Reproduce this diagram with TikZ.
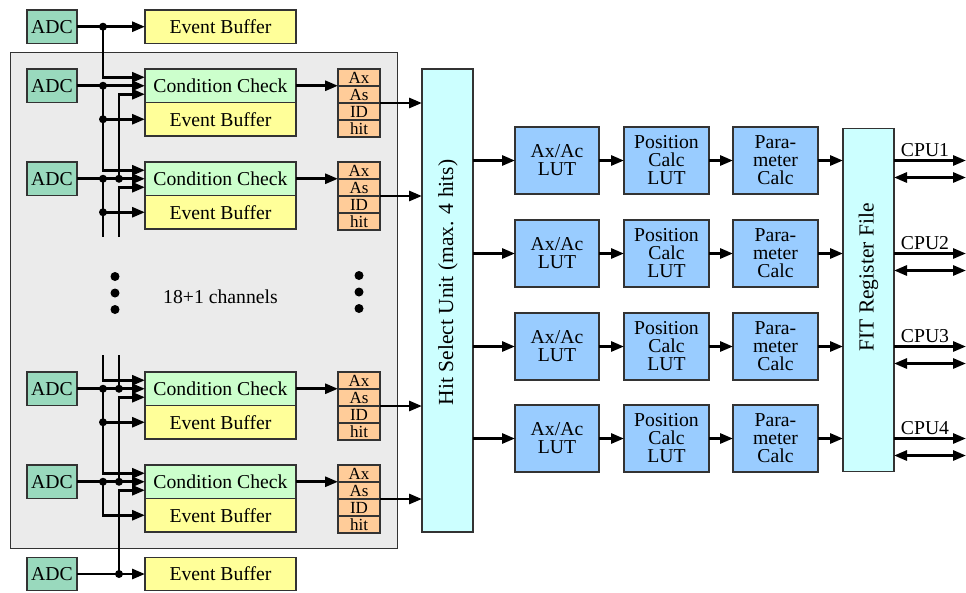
\documentclass[tikz,border=0pt]{standalone}
\usepackage{fontspec}
\setmainfont{Liberation Serif}
\usetikzlibrary{arrows.meta,calc}

\definecolor{boxline}{HTML}{333333}
\definecolor{adcfill}{HTML}{99D9BD}
\definecolor{ccfill}{HTML}{CCFFCC}
\definecolor{ebfill}{HTML}{FFFF99}
\definecolor{regfill}{HTML}{FFCC99}
\definecolor{unitfill}{HTML}{CCFFFF}
\definecolor{lutfill}{HTML}{99CCFF}
\definecolor{boardfill}{HTML}{EBEBEB}

\newcommand\fmain{\fontsize{19.7}{18}\selectfont}
\newcommand\freg{\fontsize{17}{16}\selectfont}
\newcommand\fbig{\fontsize{21.5}{22}\selectfont}

\begin{document}
\begin{tikzpicture}[x=1pt,y=-1pt,
  blk/.style={draw=boxline, line width=1.3pt, inner sep=0pt, outer sep=0pt,
              font=\fmain, align=center},
  adcbox/.style={blk, fill=adcfill, minimum width=50pt, minimum height=33.5pt},
  ccbox/.style={blk, fill=ccfill, minimum width=151pt, minimum height=33.5pt},
  ebbox/.style={blk, fill=ebfill, minimum width=151pt, minimum height=33.5pt},
  regbox/.style={blk, fill=regfill, font=\freg, minimum width=42pt, minimum height=17pt},
  lutbox/.style={blk, fill=lutfill, minimum width=85pt, minimum height=67pt},
  unitbox/.style={blk, fill=unitfill, minimum width=51pt},
  board/.style={draw=boxline, line width=1pt, fill=boardfill, inner sep=0pt,
                minimum width=387pt, minimum height=496pt},
  wire/.style={line width=2.8pt},
  arr/.style={wire, -{Triangle[length=13pt,width=10pt]}},
  biarr/.style={wire, {Triangle[length=13pt,width=10pt]}-{Triangle[length=13pt,width=10pt]}},
  junction/.style={fill=black},
  rottext/.style={rotate=90, font=\fbig, inner sep=0pt}
]
\useasboundingbox (0,0) rectangle (966,592);

% channel board in the background
\node[board] (brd) at (203.5,300) {};

% bus rails and the gap of the omitted channels
\coordinate (busA) at (103,0);
\coordinate (busB) at (119,0);
\coordinate (gapT) at (0,237);
\coordinate (gapB) at (0,355);

% extra ADCs above and below the board
\node[adcbox] (adc0) at (52,26.7) {ADC};
\node[ebbox]  (eb0)  at (220.5,26.7) {Event Buffer};
\node[adcbox] (adc5) at (52,574) {ADC};
\node[ebbox]  (eb5)  at (220.5,574) {Event Buffer};

% the channels on the board
\foreach \i/\t in {1/69,2/162,3/372,4/465} {
  \node[adcbox] (adc\i) at (52,\t+16.75) {ADC};
  \node[ccbox]  (cc\i)  at (220.5,\t+16.75) {Condition Check};
  \node[ebbox]  (eb\i)  at (220.5,\t+50.25) {Event Buffer};
  \node[regbox] (ax\i)  at (359,\t+8.5)  {Ax};
  \node[regbox] (as\i)  at (359,\t+25.5) {As};
  \node[regbox] (id\i)  at (359,\t+42.5) {ID};
  \node[regbox] (hit\i) at (359,\t+59.5) {hit};
}

% omitted channels
\foreach \yy in {276.5,293,309.5} {
  \fill (115,\yy) circle[radius=4.5pt];
  \fill (359,\yy-1) circle[radius=4.5pt];
}
\node[font=\fmain, inner sep=0pt] (nch) at (220.5,297) {18+1 channels};

% hit selection and the processing pipelines
\node[unitbox, minimum height=463pt] (hsu) at (447.5,300.5) {};
\node[rottext] (hsutxt) at (448,282.5) {Hit Select Unit (max. 4 hits)};
\node[unitbox, minimum height=343pt] (fit) at (868.5,300) {};
\node[rottext] (fittxt) at (868.5,277.5) {FIT Register File};

\foreach \r/\ry in {1/160.5,2/253.5,3/346.5,4/438.5} {
  \node[lutbox, minimum width=84pt] (lut\r) at (557,\ry) {Ax/Ac\\LUT};
  \node[lutbox] (pos\r) at (666.5,\ry) {Position\\Calc\\LUT};
  \node[lutbox] (par\r) at (775.5,\ry) {Para-\\meter\\Calc};
  \draw[arr] (hsu.east |- lut\r.west) -- (lut\r.west);
  \draw[arr] (lut\r.east) -- (pos\r.west);
  \draw[arr] (pos\r.east) -- (par\r.west);
  \draw[arr] (par\r.east) -- (fit.west |- par\r.east);
  \coordinate (cpuo\r) at (966,\ry);
  \coordinate (cpub\r) at (966,\ry+17);
  \draw[arr] (fit.east |- cpuo\r) -- (cpuo\r);
  \draw[biarr] (fit.east |- cpub\r) -- (cpub\r);
  \node[font=\fmain, anchor=base, inner sep=0pt] (cpul\r) at (925,\ry-4.5) {CPU\r};
}

% register outputs
\foreach \i in {1,2,3,4} {
  \draw[arr] (cc\i.east) -- (cc\i.east -| ax\i.west);
  \draw[arr] (as\i.south east) -- (as\i.south east -| hsu.west);
  \draw[arr] (adc\i.east) -- (cc\i.west);
}

% top ADC
\draw[arr] (adc0.east) -- (eb0.west);
\draw[arr] (adc0.east -| busA) |- ([yshift=8.5pt]cc1.west);
% channel 1
\draw[arr] (adc1.east -| busA) |- (eb1.west);
\draw[arr] (adc1.east -| busA) |- ([yshift=8.5pt]cc2.west);
\draw[arr] (adc2.east -| busB) |- ([yshift=-8.5pt]cc1.west);
% channel 2
\draw[arr] (adc2.east -| busA) |- (eb2.west);
\draw[wire] (adc2.east -| busA) -- (gapT -| busA);
\draw[arr] (gapT -| busB) |- ([yshift=-8.5pt]cc2.west);
% channel 3
\draw[arr] (gapB -| busA) |- ([yshift=8.5pt]cc3.west);
\draw[wire] (gapB -| busB) -- (adc3.east -| busB);
\draw[arr] (adc3.east -| busA) |- (eb3.west);
\draw[arr] (adc3.east -| busA) |- ([yshift=8.5pt]cc4.west);
\draw[arr] (adc4.east -| busB) |- ([yshift=-8.5pt]cc3.west);
% channel 4
\draw[arr] (adc4.east -| busA) |- (eb4.west);
\draw[arr] (adc5.east -| busB) |- ([yshift=-8.5pt]cc4.west);
% bottom ADC
\draw[arr] (adc5.east) -- (eb5.west);

% junctions
\foreach \p in {adc0.east -| busA, adc1.east -| busA, eb1.west -| busA,
                adc2.east -| busA, adc2.east -| busB, eb2.west -| busA,
                adc3.east -| busA, adc3.east -| busB, eb3.west -| busA,
                adc4.east -| busA, adc4.east -| busB, adc5.east -| busB}
  \fill[junction] (\p) circle[radius=4pt];
\end{tikzpicture}
\end{document}
